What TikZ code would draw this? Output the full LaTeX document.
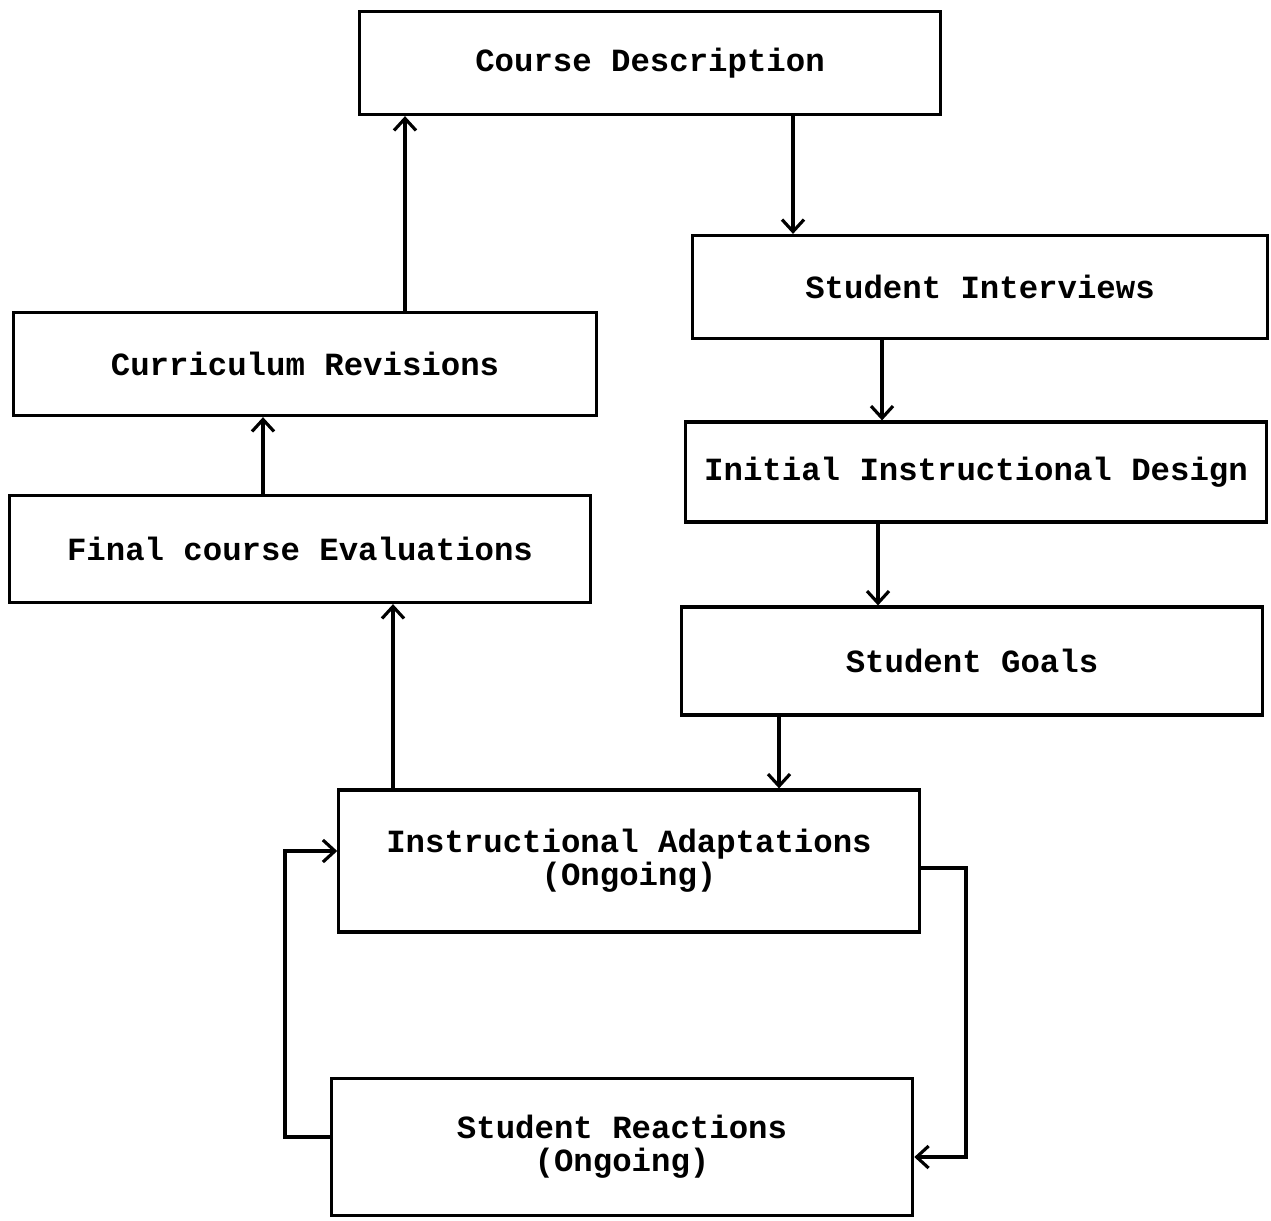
\documentclass[tikz,border=0pt]{standalone}
\usepackage{fontspec}
\setmonofont{Liberation Mono}
\usetikzlibrary{arrows.meta}

\tikzset{
  stage/.style={draw, line width=0.9pt, minimum width=5.8cm, minimum height=1.03cm,
    align=center, font=\ttfamily\bfseries\fontsize{9.2}{9.3}\selectfont},
  flow/.style={->, >={Straight Barb[length=1.2mm, width=2.2mm]}, line width=0.9pt}
}

\begin{document}
\begin{tikzpicture}[x=0.01cm, y=-0.01cm]
    \useasboundingbox (0,0) rectangle (1271,1220);
    % boxes
    \node [stage] (cd)  at (650,63)   {Course Description};
    \node [stage, minimum width=5.75cm] (si) at (980,287) {Student Interviews};
    \node [stage, minimum height=1cm] (idd) at (976,472) {Initial Instructional Design};
    \node [stage, minimum height=1.08cm] (sg) at (972,661) {Student Goals};
    \node [stage, minimum width=5.83cm] (cr) at (305,364) {Curriculum Revisions};
    \node [stage, minimum height=1.07cm] (fce) at (300,549) {Final course Evaluations};
    \node [stage, minimum height=1.42cm] (ia) at (629,861) {Instructional Adaptations\\(Ongoing)};
    \node [stage, minimum height=1.37cm, minimum width=5.81cm] (sr) at (622,1147) {Student Reactions\\(Ongoing)};
    % forward path
    \draw [flow] (cd.south -| 793,0) -- (si.north -| 793,0);
    \draw [flow] (si.south -| 882,0) -- (idd.north -| 882,0);
    \draw [flow] (idd.south -| 878,0) -- (sg.north -| 878,0);
    \draw [flow] (sg.south -| 779,0) -- (ia.north -| 779,0);
    % return path
    \draw [flow] (ia.north -| 393,0) -- (fce.south -| 393,0);
    \draw [flow] (fce.north -| 263,0) -- (cr.south -| 263,0);
    \draw [flow] (cr.north -| 405,0) -- (cd.south -| 405,0);
    % ongoing loop
    \draw [flow] (ia.east |- 0,868) -| (966,1000) |- (sr.east |- 0,1157);
    \draw [flow] (sr.west |- 0,1137) -| (285,1000) |- (ia.west |- 0,851);
\end{tikzpicture}
\end{document}
